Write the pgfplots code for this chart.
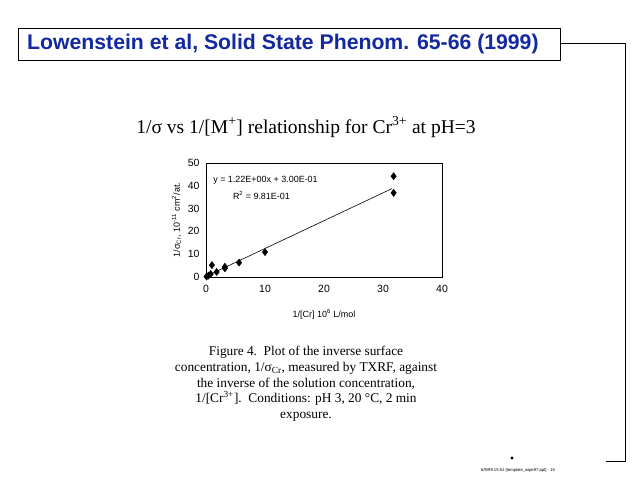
\documentclass[border=0pt]{standalone}
\usepackage{pgfplots}
\pgfplotsset{compat=1.18}
\usepackage{fontspec}
\setmainfont{Liberation Serif}
\setsansfont{Liberation Sans}
\definecolor{ttlblue}{RGB}{20,40,160}
\begin{document}
\begin{tikzpicture}[x=1bp,y=1bp]
\path[use as bounding box, fill=white] (0,0) rectangle (640,480);
% title box
\draw[line width=0.8bp] (18,420) rectangle (560,452);
\node[anchor=west, text=ttlblue, font=\sffamily\bfseries\fontsize{21.3}{23}\selectfont, inner sep=0] at (27,436) {Lowenstein et al, Solid State Phenom. 65-66 (1999)};
\draw[line width=0.8bp] (560,437) -- (625,437) -- (625,19) -- (606,19);
\fill (512,22) circle (1.6);
\node[anchor=west, font=\sffamily\fontsize{4.2}{5}\selectfont, inner sep=0] at (481,10) {6/9/99 15:51 [template\_wipe97.ppt] - 15};
% subtitle
\node[font=\fontsize{19.6}{22}\selectfont, inner sep=0] at (306,353) {1/σ vs 1/[M\textsuperscript{+}] relationship for Cr\textsuperscript{3+} at pH=3};
% caption
\node[align=center, font=\fontsize{13.4}{15.8}\selectfont, anchor=north, inner sep=0] at (306,134) {Figure 4.\ \ Plot of the inverse surface\\concentration, 1/σ\textsubscript{Cr}, measured by TXRF, against\\the inverse of the solution concentration,\\1/[Cr\textsuperscript{3+}].\ \ Conditions: pH 3, 20 °C, 2 min\\exposure.};
\begin{axis}[
  at={(206bp,203bp)}, anchor=south west,
  scale only axis, width=236bp, height=114bp,
  xmin=0, xmax=40, ymin=0, ymax=50,
  xtick={0,10,20,30,40}, ytick={0,10,20,30,40,50},
  tick style={draw=none},
  axis line style={line width=0.5bp},
  ticklabel style={font=\sffamily\fontsize{10.5}{12}\selectfont},
  xticklabel style={yshift=-5bp},
  yticklabel style={xshift=-3bp},
  /pgf/number format/assume math mode=true,
  xlabel={1/[Cr] 10\textsuperscript{6} L/mol},
  ylabel={1/σ\textsubscript{Cr}, 10\textsuperscript{-11} cm\textsuperscript{2}/at.},
  label style={font=\sffamily\fontsize{9}{10}\selectfont},
  xlabel style={yshift=-10bp},
  ylabel style={yshift=0bp},
  clip=false,
]
\addplot[black, line width=0.6bp] coordinates {(0,0.3) (31.5,38.73)};
\addplot[only marks, mark=diamond*, mark size=3.6bp, black] coordinates {
(0.1,0.2) (0.4,0.6) (0.8,1.3) (1.0,5.2) (1.8,2.2) (3.2,3.8) (3.2,4.5) (5.6,6.3) (10.0,10.9) (31.8,44.2) (31.8,36.9)};
\node[anchor=west, font=\sffamily\fontsize{9}{10}\selectfont, inner sep=0] at (axis cs:1.2,42.4) {y = 1.22E+00x + 3.00E-01};
\node[font=\sffamily\fontsize{9}{10}\selectfont, inner sep=0] at (axis cs:9.4,35.8) {R\textsuperscript{2} = 9.81E-01};
\end{axis}
\end{tikzpicture}
\end{document}
